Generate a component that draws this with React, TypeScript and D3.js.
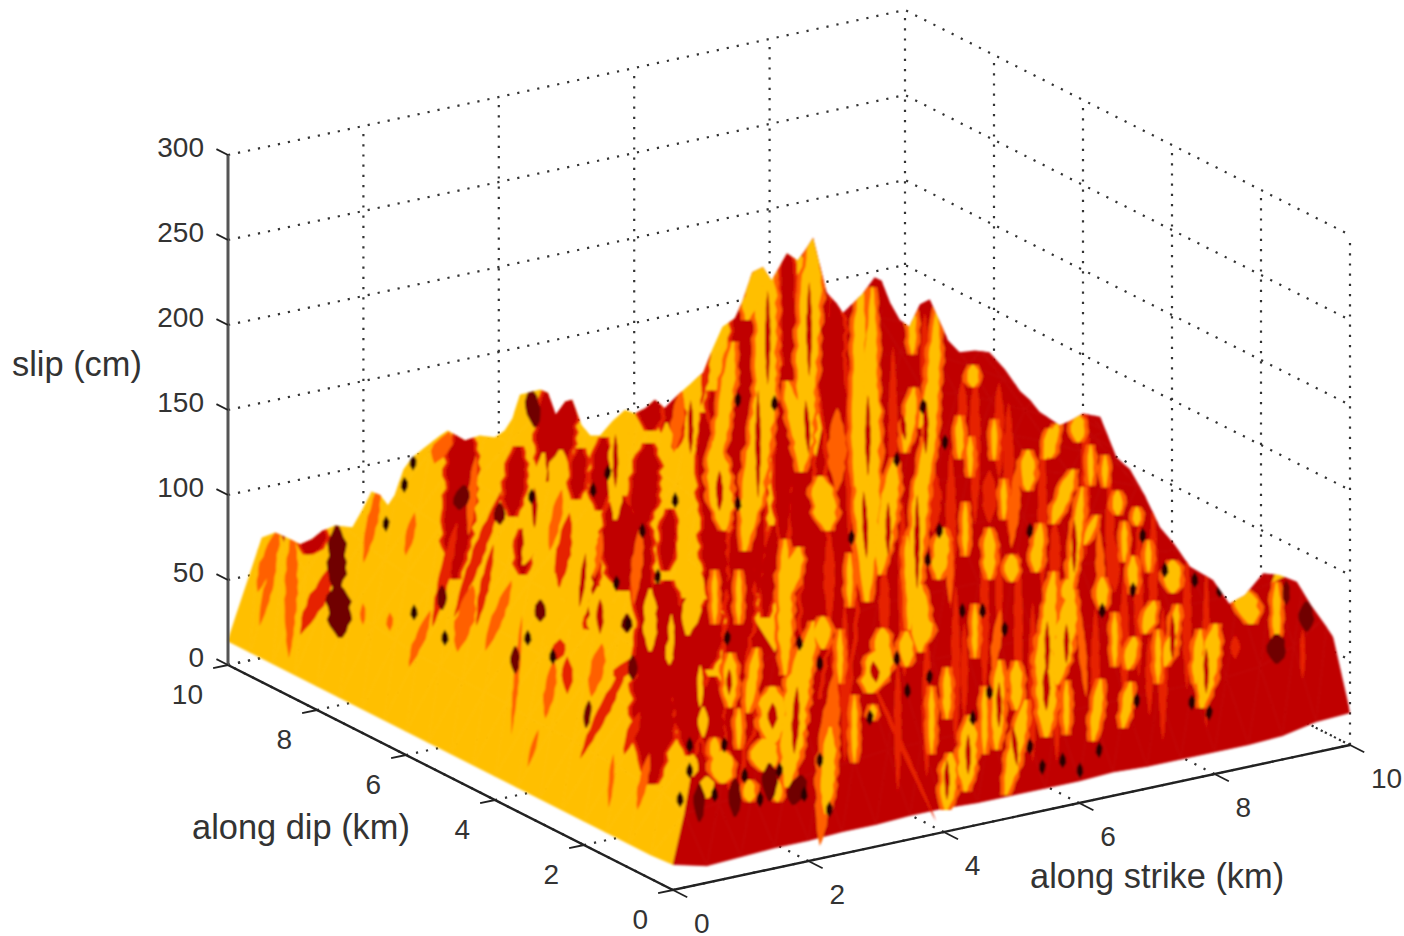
import React from "react";
import * as d3 from "d3";

// slip (cm) of the smooth mass, one row per 0.5 km along dip (row 0 = dip 0), 0.5 km along strike
const slipRows: number[][] = [
  [15,10,11,12,12,13,13,14,14,13,13,13,13,14,13,13,13,13,14,18,19],
  [14,34,36,38,40,42,44,46,46,46,46,46,46,46,46,46,46,46,48,56,70],
  [14,40,62,66,70,74,78,82,84,84,84,84,84,84,84,84,84,84,84,86,92],
  [14,40,64,80,90,98,104,110,114,114,114,114,114,114,112,110,110,108,106,100,92],
  [14,42,66,84,100,112,122,130,136,140,140,140,140,138,136,132,128,122,114,104,86],
  [14,42,66,86,104,120,134,144,152,158,160,160,160,158,154,148,140,132,122,106,78],
  [14,44,68,88,106,124,140,154,164,172,178,180,178,174,168,160,150,140,126,110,72],
  [14,44,68,90,110,128,146,160,174,186,194,198,196,190,182,172,162,148,132,114,76],
  [14,44,70,92,112,132,150,168,184,198,208,214,212,206,196,184,170,156,140,122,82],
  [14,46,70,94,114,134,154,172,190,206,220,228,226,218,208,194,180,164,148,130,92],
  [14,46,72,96,116,136,156,176,196,214,230,242,238,230,218,204,188,172,156,138,108],
  [14,46,72,96,118,138,158,178,198,218,238,254,250,240,226,212,196,180,164,146,122],
  [14,48,74,98,120,140,160,180,200,220,242,260,262,250,236,220,204,188,172,154,130],
  [14,48,76,100,122,142,160,180,198,218,240,262,266,254,240,224,208,192,176,158,134],
  [14,50,76,100,122,142,160,176,194,212,232,254,262,252,238,222,206,190,174,156,134],
  [14,52,78,102,124,142,158,172,188,204,222,242,250,242,230,216,200,186,170,154,132],
  [14,54,80,104,126,144,156,168,180,194,210,226,234,228,218,204,190,176,162,148,128],
  [14,58,84,108,128,144,154,164,174,186,198,210,216,212,204,192,180,168,156,142,124],
  [14,64,88,112,130,146,154,162,170,178,188,196,200,196,190,180,170,160,150,138,120],
  [14,74,90,114,132,146,156,162,168,174,180,184,186,184,178,170,162,154,146,134,118],
  [14,100,96,116,134,148,156,162,166,170,174,176,176,174,170,164,158,150,142,132,116],
];

// top outline of the surface, read on the section that runs across the view: [km along section, cm]
const outline: [number, number][] = [
  [0,15],[.08,29],[.21,51],[.35,75],[.49,78],[.61,75],[.75,71],[.87,74],[.98,79],[1.11,82],[1.29,81],[1.39,91],
  [1.49,102],[1.58,100],[1.66,94],[1.73,100],[1.82,115],[1.91,122],[2.04,128],[2.2,135],[2.28,138],[2.37,135],
  [2.46,132],[2.61,135],[2.77,134],[2.87,138],[2.95,145],[3.03,159],[3.24,162],[3.32,160],[3.4,147],[3.5,155],
  [3.57,156],[3.67,141],[3.76,135],[3.86,135],[3.98,143],[4.12,150],[4.22,148],[4.33,151],[4.43,156],[4.53,151],
  [4.67,159],[4.79,165],[4.93,172],[5.02,185],[5.13,199],[5.26,204],[5.34,214],[5.44,231],[5.55,234],[5.64,226],
  [5.8,242],[5.91,238],[5.99,244],[6.07,251],[6.14,235],[6.21,219],[6.31,213],[6.38,207],[6.47,212],[6.58,218],
  [6.71,228],[6.78,226],[6.87,213],[6.97,203],[7.07,199],[7.18,212],[7.28,215],[7.36,205],[7.47,191],[7.59,184],
  [7.75,185],[7.9,184],[8.06,174],[8.22,161],[8.32,156],[8.42,149],[8.63,141],[8.75,144],[8.87,148],[9.05,146],
  [9.22,122],[9.36,115],[9.51,100],[9.67,81],[9.82,71],[9.98,58],[10.22,50],[10.39,36],[10.55,41],[10.74,54],
  [10.91,53],[11.09,49],[11.24,35],[11.38,24],[11.53,11],[11.6,-9],[11.64,-28],[11.66,-56],[4.62,-138],[-.02,-9],
];

// colour streaks on the surface, same section: [km top, cm top, km bottom, cm bottom, half width km]
const darkStreaks: number[][] = [
  [3.34,156,3.31,119,.12],[3.5,156,3.44,125,.14],[3,121,2.96,95,.1],[3.65,122,3.62,103,.08],[3.89,126,3.86,99,.1],
  [4.38,156,4.38,142,.12],[4.62,156,4.62,134,.1],[4.35,121,4.3,89,.14],[5.28,131,5.28,93,.14],[5.03,156,5.07,138,.06],
  [5.76,156,5.76,89,.09],[4.07,89,4.1,54,.2],[3.06,75,3.06,58,.07],[4.58,85,4.55,62,.08],[5.03,85,5.07,44,.13],
  [5.34,81,5.31,15,.14],[5,31,4.97,5,.14],[4.55,40,4.51,7,.16],[5.65,72,5.59,38,.08],[4.45,26,4.41,-48,.22],
  [4.76,22,4.79,-36,.17],[5.34,-13,5.34,-40,.13],[5.03,-16,5.03,-48,.12],[5.26,26,5.26,-56,.1],[2.44,131,2.37,69,.15],
  [.93,78,.85,68,.12],[5.36,209,5.33,144,.12],[5.8,241,5.83,165,.07],[6.07,249,6.06,241,.05],[6.09,79,6.09,3,.14],
  [6.35,144,6.38,15,.14],[6.3,205,6.28,150,.1],[5.95,130,5.95,70,.12],[4.95,135,5,90,.1],[4.3,80,4.3,35,.1],
  [6.14,240,6.2,160,.08],[5.5,120,5.5,60,.07],[3.8,60,3.75,30,.05],
];
const redStreaks: number[][] = [
  [1.06,54,.82,26,.1],[2.33,73,2.17,34,.06],[2.75,89,2.44,42,.07],[3.52,81,3.44,52,.08],[7.31,109,7.31,85,.1],
  [7.9,109,7.9,89,.08],[6.24,69,6.24,34,.06],[6.81,50,6.81,22,.06],[7.62,162,7.62,140,.05],[8.58,78,8.58,50,.06],
  [9.2,68,9.2,48,.06],[4.07,-7,3.75,-44,.07],[3.52,1,3.52,-13,.06],[4.14,1,4.07,-7,.1],[3.44,13,3.42,5,.08],
  [4.24,-32,4.14,-48,.06],[6.76,-19,7.21,-75,.03],[11.15,16,11.15,-3,.03],[10.45,15,10.45,6,.05],[8,156,8,120,.06],
  [6.56,203,6.56,156,.08],[7.23,197,7.23,162,.05],[4.95,191,4.9,159,.08],[5.67,221,5.64,168,.05],[7.02,38,7.02,3,.05],
  [8,62,8,26,.04],[9.56,9,9.56,-21,.04],[7.64,15,7.64,-21,.04],[2.72,62,2.61,32,.05],
  [6.9,170,6.9,110,.05],[7,80,7,20,.05],[7.5,110,7.5,50,.06],[7.55,30,7.55,-30,.05],[7.75,160,7.75,100,.06],
  [7.85,60,7.85,0,.05],[8.1,140,8.1,90,.06],[8.2,50,8.2,-10,.05],[8.45,120,8.45,60,.05],[8.6,20,8.6,-40,.05],
  [8.9,140,8.9,80,.05],[9,20,9,-30,.05],[9.15,100,9.15,55,.05],[9.3,40,9.3,-10,.05],[9.6,80,9.6,30,.05],
  [9.7,20,9.7,-30,.05],[9.95,50,9.95,0,.05],[10.15,40,10.15,-20,.04],[7.25,5,7.25,-50,.05],[6.95,-10,6.95,-60,.04],
  [6.4,20,6.4,-40,.05],[8.35,20,8.35,-40,.05],[6.45,160,6.45,90,.05],[8.75,70,8.75,20,.05],[9.45,70,9.45,10,.05],
];
const orangeStreaks: number[][] = [
  [.49,74,.35,50,.08],[.47,58,.36,31,.05],[.67,69,.64,19,.07],[1.55,99,1.44,69,.06],[1.92,85,1.86,69,.05],
  [2.27,134,2.17,122,.1],[2.51,40,2.41,15,.1],[2.89,42,2.72,16,.07],[2.06,26,1.92,5,.06],[1.68,29,1.68,22,.04],
  [4.35,-58,4.27,-79,.05],[3.99,-58,3.96,-78,.03],[3.37,-3,3.31,-25,.06],[3.03,16,2.96,-28,.03],[3.2,-42,3.13,-56,.03],
  [3.86,7,3.79,-13,.08],[6.32,142,6.32,111,.1],[8.18,109,8.14,78,.06],[9.04,72,9.07,38,.05],[6.27,-22,6.17,-87,.12],
  [8,26,7.95,3,.05],[1.4,34,1.4,26,.03],[4.69,156,4.64,132,.07],[7.49,72,7.49,44,.04],[8.84,26,8.89,-9,.04],
  [3.44,97,3.36,74,.06],[4.27,74,4.22,44,.06],[2.56,115,2.51,85,.05],[3.86,74,3.81,56,.05],
];
const amberStreaks: number[][] = [
  [3.24,113,3.13,74,.09],[3.44,121,3.39,103,.1],[4.07,144,4.03,99,.1],[4.55,138,4.55,123,.06],[4.86,163,4.76,116,.07],
  [5.07,122,5.13,89,.12],[5.59,162,5.41,89,.12],[3.72,79,3.62,31,.13],[3.86,40,3.86,19,.13],[3.37,46,3.34,19,.09],
  [4.38,38,4.38,15,.07],[4.86,50,4.79,25,.1],[4.72,83,4.72,52,.06],[5.78,59,5.78,9,.07],[3.26,85,3.11,65,.08],
  [3.03,162,3,146,.05],[6,163,5.96,125,.1],[6.64,162,6.63,66,.13],[6.16,105,6.21,85,.12],[7.1,156,7.04,132,.06],
  [7.31,168,7.21,146,.05],[6.89,109,6.79,66,.09],[7.21,113,7.1,42,.08],[7.59,142,7.59,126,.04],[8.3,122,8.3,107,.07],
  [8.53,136,8.53,125,.06],[7.41,75,7.38,56,.08],[8.39,69,8.39,58,.06],[7.9,75,7.9,56,.06],[8.13,62,8.13,52,.07],
  [8.55,46,8.49,16,.06],[6.17,25,6.17,13,.08],[5.9,64,5.83,46,.08],[7.18,40,7.18,15,.09],[6.79,18,6.79,6,.08],
  [8.82,144,8.82,134,.07],[8.58,138,8.5,125,.06],[8.73,109,8.6,89,.07],[8.84,93,8.76,54,.05],[8.99,85,8.91,74,.04],
  [9.23,100,9.23,91,.05],[9.43,91,9.43,84,.04],[8.42,78,8.39,60,.05],[8.71,48,8.71,40,.06],[8.73,34,8.63,-1,.1],
  [8.53,28,8.45,-3,.09],[9.07,48,9.07,36,.06],[9.39,60,9.39,46,.05],[9.8,58,9.8,46,.09],[9.39,13,9.35,1,.06],
  [9.59,34,9.53,22,.06],[10.22,15,10.13,-16,.09],[10.08,15,10.05,-5,.05],[9.8,16,9.74,3,.06],[9.84,31,9.8,15,.04],
  [10.55,41,10.6,28,.12],[10.88,42,10.88,19,.04],[9.56,32,9.56,24,.06],[4.58,12,4.58,3,.04],[4.93,-28,4.93,-39,.05],
  [5.21,1,5.21,-19,.07],[5.65,-19,5.65,-40,.14],[5.13,-54,5.13,-66,.12],[5.57,-47,5.57,-59,.14],[4.97,-68,4.97,-76,.08],
  [6.79,7,6.69,-11,.14],[5.93,-3,5.83,-56,.12],[6.24,-46,6.21,-78,.07],[7.46,-7,7.46,-26,.04],[7.49,-58,7.46,-79,.08],
  [7.69,-38,7.66,-66,.09],[8,-7,7.98,-40,.06],[8.24,-31,8.11,-66,.07],[8.18,-3,8.18,-21,.06],[8.49,7,8.49,-31,.1],
  [7.04,16,7.04,3,.07],[7.23,25,7.23,16,.08],[6.69,-25,6.69,-31,.04],[9.04,-15,8.99,-38,.05],[9.35,-15,9.3,-32,.05],
  [5.47,3,5.41,-21,.05],[6.04,15,5.93,-21,.07],[5.59,226,5.57,158,.11],[6.06,235,5.99,159,.11],[6.56,209,6.52,129,.06],
  [6.68,200,6.66,126,.06],[7.34,191,7.28,126,.06],[7.1,206,7.1,188,.04],[5.49,229,5.41,209,.09],[5.21,176,5.1,129,.07],
  [4.86,171,4.79,126,.06],[5.83,159,5.93,132,.07],[7.73,174,7.73,166,.06],[5.41,-70,5.41,-78,.06],[4.82,-55,4.82,-63,.06],
  [5.7,-70,5.7,-78,.05],[5.05,-45,5.05,-53,.05],
  [7.7,130,7.7,115,.03],[7.95,140,7.95,125,.03],[8.05,105,8.05,90,.03],[8.95,125,8.95,110,.03],[9.1,120,9.1,108,.03],
  [9.3,80,9.3,65,.03],[9.55,70,9.55,58,.03],[7.65,90,7.65,70,.03],[7.05,70,7.05,50,.03],[6.45,60,6.45,40,.03],
  [6.35,15,6.35,-5,.03],[7.75,30,7.75,10,.03],[9.2,25,9.2,5,.03],[9.65,15,9.65,-5,.03],[7.85,-20,7.85,-45,.03],
  [6.5,-25,6.5,-50,.03],[7.3,-20,7.3,-45,.03],[8.7,-15,8.7,-35,.03],[5.05,50,5.05,30,.03],[5.3,50,5.3,30,.03],
  [4.6,25,4.6,10,.03],[4.9,-5,4.9,-20,.03],[5.3,-30,5.3,-45,.03],
];
// thin dark cuts that run through the amber streaks
const darkSlits: number[][] = [
  [6.64,150,6.64,120,.03],[6.6,95,6.62,70,.03],[5.5,150,5.5,110,.03],[5.6,210,5.6,175,.03],[6.03,215,6.03,180,.03],
  [6,150,6.02,130,.03],[7.15,90,7.15,55,.03],[7.24,150,7.24,130,.03],[6.85,90,6.85,70,.03],[8.5,20,8.5,0,.03],
  [8.7,20,8.7,5,.03],[8.78,80,8.78,60,.03],[9.8,25,9.8,8,.03],[10.15,5,10.15,-12,.03],[5.9,-20,5.88,-45,.04],
  [5.65,-25,5.65,-35,.05],[5.1,110,5.1,95,.04],[4.8,150,4.8,130,.03],[4.02,130,4.02,110,.03],[3.7,60,3.66,40,.03],
  [3.86,35,3.86,22,.04],[7.46,-60,7.46,-75,.03],[7.68,-45,7.68,-60,.03],[8,-15,8,-32,.03],[8.15,-40,8.18,-55,.03],
  [8.49,-5,8.49,-22,.04],[6.7,0,6.72,-8,.05],[7,145,7.02,135,.03],[3.18,100,3.18,85,.03],[5.2,-5,5.2,-15,.03],
];
const maroonStreaks: number[][] = [
  [1.13,75,1.13,50,.1],[1.14,42,1.16,22,.13],[3.15,158,3.18,144,.08],[2.44,103,2.41,94,.08],[2.22,44,2.22,35,.05],
  [2.82,93,2.82,85,.06],[3.74,-24,3.72,-34,.04],[10.88,15,10.88,4,.1],[10.98,47,10.98,38,.04],[11.19,34,11.19,23,.08],
  [3.24,36,3.24,28,.06],[4.14,28,4.14,21,.06],[4.2,3,4.2,-6,.05],[2.98,8,2.98,-2,.05],[5.93,-68,5.88,-79,.1],
  [5.62,-62,5.62,-76,.08],[5.26,-71,5.26,-85,.07],[4.89,-74,4.89,-88,.06],
];
// small black pits: [km along section, cm]
const pits: number[][] = [
  [1.92,119],[1.83,106],[1.64,83],[1.93,31],[2.25,16],[3.79,103],[3.15,99],[3.94,113],[4.15,24],[4.46,52],[4.3,79],
  [4.64,97],[5.29,95],[5.67,154],[5.29,156],[5.18,16],[4.03,48],[3.11,16],[3.37,5],[6.94,121],[7.38,79],[7.21,152],
  [7.44,131],[6.47,75],[7.62,32],[7.83,32],[7.26,62],[9.07,32],[8.06,21],[8.32,79],[9.39,44],[9.72,56],[10.03,50],
  [10.29,44],[9.49,76],[6.66,-31],[6.24,-85],[7.28,-7],[7.05,-15],[6.94,4],[5.93,13],[6.14,1],[6.14,-56],[8.32,-48],
  [8.45,-60],[8.66,-56],[7.9,-16],[7.73,-31],[10,-22],[10.18,-28],[9.43,-21],[9.04,-50],[8.84,-62],[4.79,-62],[5.05,-76],
  [5.36,-65],[5.52,-79],[5.72,-62],[5.15,-47],[4.79,-47],[4.69,-79],[5.98,-76],
];

const strikeTicks = [0, 2, 4, 6, 8, 10];
const dipTicks = [0, 2, 4, 6, 8, 10];
const slipTicks = [0, 50, 100, 150, 200, 250, 300];

const amber = "#ffbf00";
const orange = "#ff6000";
const red = "#e62000";
const dark = "#c00000";
const maroon = "#700000";
const pitColor = "#2a0000";

const width = 1404;
const height = 936;
const stepKm = 0.5;

// oblique projection of the box: each axis moves the point along its own screen direction
const strikeX = d3.scaleLinear().domain([0, 10]).range([0, 677]);
const strikeY = d3.scaleLinear().domain([0, 10]).range([0, -145]);
const dipX = d3.scaleLinear().domain([0, 10]).range([0, -445]);
const dipY = d3.scaleLinear().domain([0, 10]).range([0, -225]);
const slipY = d3.scaleLinear().domain([0, 300]).range([0, -510]);
const facetColor = d3.scaleThreshold<number, string>().domain([0]).range([dark, amber]);

const project = (x: number, y: number, z: number): [number, number] => [
  673 + strikeX(x) + dipX(y),
  890 + strikeY(x) + dipY(y) + slipY(z),
];
// the section goes from the far left corner, level on the screen
const section = (u: number, z: number) => project(u, 10 - (145 / 225) * u, z);

const linePath = d3.line();
const closedPath = d3.line().curve(d3.curveLinearClosed);

// edge wobble of the streaks, so they don't look like cut-out lenses
const ragged = [0.86, 1, 0.9, 1.06, 0.94, 0.8, 1.04, 0.92, 1.08, 0.84, 0.97, 1.02, 0.78, 0.98];

function streakPath([u0, z0, u1, z1, w]: number[], k: number, taper: boolean, grow = 0) {
  const pad = 0.3;
  const at = (t: number, off: number) => section(u0 + (u1 - u0) * t + off, z0 + (z1 - z0) * t);
  const n = Math.max(3, Math.min(26, Math.round((Math.abs(z1 - z0) * 1.7 * (1 + 2 * pad)) / 6)));
  const right: [number, number][] = [];
  const left: [number, number][] = [];
  for (let q = 0; q <= n; q++) {
    const f = q / n;
    const t = -pad + f * (1 + 2 * pad);
    const body = taper ? Math.pow(Math.sin(Math.PI * f), 0.8) : Math.min(1, 0.2 + 3 * Math.min(f, 1 - f));
    const wr = (w * body + grow) * ragged[(q + k * 5) % ragged.length];
    const wl = (w * body + grow) * ragged[(q * 3 + k * 7 + 4) % ragged.length];
    right.push(at(t, wr));
    left.unshift(at(t, -wl));
  }
  return closedPath([...right, ...left])!;
}

type Facet = { d: string; fill: string };

function buildFacets(): Facet[] {
  const out: Facet[] = [];
  const rows = slipRows.length;
  const cols = slipRows[0].length;
  for (let j = rows - 2; j >= 0; j--) {
    for (let i = cols - 2; i >= 0; i--) {
      const a = slipRows[j][i];
      const b = slipRows[j][i + 1];
      const c = slipRows[j + 1][i];
      const e = slipRows[j + 1][i + 1];
      const x0 = i * stepKm;
      const x1 = (i + 1) * stepKm;
      const y0 = j * stepKm;
      const y1 = (j + 1) * stepKm;
      const pa = project(x0, y0, a);
      const pb = project(x1, y0, b);
      const pc = project(x0, y1, c);
      const pe = project(x1, y1, e);
      const left = e - c - 0.66 * (c - a);
      const right = b - a - 0.66 * (e - b);
      out.push({ d: closedPath([pa, pc, pe])!, fill: facetColor(left) });
      out.push({ d: closedPath([pa, pb, pe])!, fill: facetColor(right) });
    }
  }
  return out;
}

const font = "'Liberation Sans', Arial, sans-serif";
const textColor = "#333";
const dots = { stroke: "#333", strokeWidth: 2.2, strokeDasharray: "2.2 8", fill: "none" };

export default function App() {
  const facets = buildFacets();
  const top = 300;
  const outlinePath = closedPath(outline.map(([u, z]) => section(u, z)))!;
  // amber only gets an orange rim where it sits on the red part of the surface
  const amberOnRed = amberStreaks.filter((s) => s[0] > 5);
  const layers: [number[][], string, boolean, number][] = [
    [darkStreaks, red, false, 0.04],
    [darkStreaks, dark, false, 0],
    [redStreaks, red, true, 0],
    [orangeStreaks, orange, true, 0],
    [amberOnRed, orange, false, 0.045],
    [amberStreaks, amber, false, 0],
    [darkSlits, dark, true, 0],
    [maroonStreaks, maroon, false, 0],
  ];
  return (
    <svg width={width} height={height} style={{ position: "absolute", left: 0, top: 0, background: "#fff" }} fontFamily={font}>
      <defs>
        <clipPath id="surface-outline">
          <path d={outlinePath} />
        </clipPath>
        <filter id="soft" x="-5%" y="-5%" width="110%" height="110%">
          <feGaussianBlur stdDeviation="0.8" />
        </filter>
      </defs>
      <g {...dots}>
        {slipTicks.map((z) => (
          <path key={z} d={linePath([project(0, 10, z), project(10, 10, z), project(10, 0, z)])!} />
        ))}
        {strikeTicks.slice(1).map((x) => (
          <path key={x} d={linePath([project(x, 10, 0), project(x, 10, top)])!} />
        ))}
        {dipTicks.slice(0, 5).map((y) => (
          <path key={y} d={linePath([project(10, y, 0), project(10, y, top)])!} />
        ))}
        {strikeTicks.map((x) => (
          <path key={x} d={linePath([project(x, 0, 0), project(x, 10, 0)])!} />
        ))}
        {dipTicks.map((y) => (
          <path key={y} d={linePath([project(0, y, 0), project(10, y, 0)])!} />
        ))}
      </g>
      <g filter="url(#soft)">
        <g clipPath="url(#surface-outline)">
          {facets.map((f, k) => (
            <path key={k} d={f.d} fill={f.fill} stroke={f.fill} strokeWidth={0.7} />
          ))}
          {layers.map(([streaks, fill, taper, grow], l) => (
            <g key={l} fill={fill}>
              {streaks.map((s, k) => (
                <path key={k} d={streakPath(s, k, taper, grow)} />
              ))}
            </g>
          ))}
          <g fill={pitColor}>
            {pits.map(([u, z], k) => (
              <path key={k} d={streakPath([u, z + 3, u, z - 3, 0.04], k, true)} />
            ))}
          </g>
        </g>
      </g>
      <g fill="none" stroke="#222" strokeWidth={2.4}>
        <path d={linePath([project(0, 10, 0), project(0, 0, 0), project(10, 0, 0)])!} />
        <path d={linePath([project(0, 10, 0), project(0, 10, top)])!} stroke="#555" strokeWidth={3} />
        {strikeTicks.map((x) => (
          <path key={x} d={linePath([project(x, 0, 0), project(x, -0.32, 0)])!} strokeWidth={1.8} />
        ))}
        {dipTicks.map((y) => (
          <path key={y} d={linePath([project(0, y, 0), project(-0.22, y, 0)])!} strokeWidth={1.8} />
        ))}
        {slipTicks.map((z) => (
          <path key={z} d={linePath([project(0, 10, z), project(0, 10.26, z)])!} strokeWidth={1.8} />
        ))}
      </g>
      <g fontSize={28} fill={textColor}>
        {strikeTicks.map((x) => {
          const [px, py] = project(x, 0, 0);
          return (
            <text key={x} x={px + 21} y={py + 43}>
              {x}
            </text>
          );
        })}
        {dipTicks.map((y) => {
          const [px, py] = project(0, y, 0);
          return (
            <text key={y} x={px - 25} y={py + 39} textAnchor="end">
              {y}
            </text>
          );
        })}
        {slipTicks.map((z) => {
          const [, py] = project(0, 10, z);
          return (
            <text key={z} x={204} y={py + 2} textAnchor="end">
              {z}
            </text>
          );
        })}
      </g>
      <g fontSize={34.4} fill={textColor}>
        <text x={12} y={376}>slip (cm)</text>
        <text x={192} y={839}>along dip (km)</text>
        <text x={1030} y={888}>along strike (km)</text>
      </g>
    </svg>
  );
}
